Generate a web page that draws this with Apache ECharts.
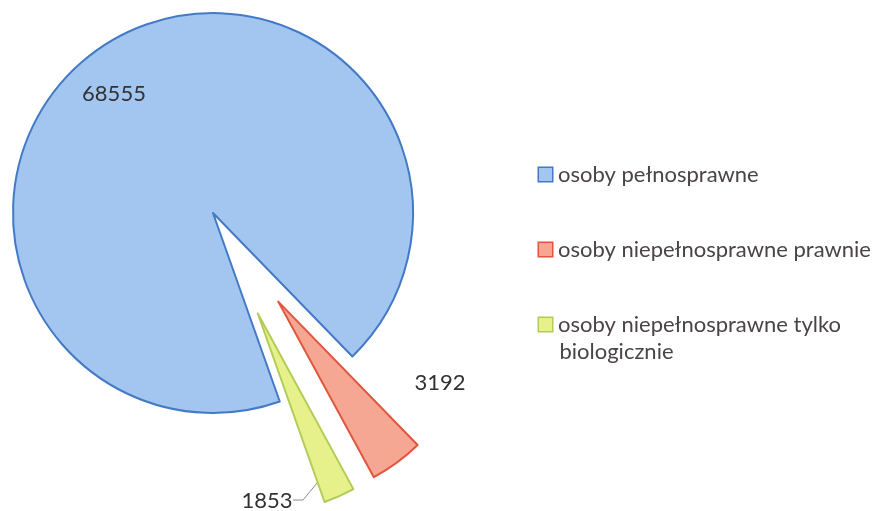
<!DOCTYPE html>
<html>
<head>
<meta charset="utf-8">
<script src="https://cdn.jsdelivr.net/npm/echarts@6/dist/echarts.min.js"></script>
<style>
    html, body { margin: 0; padding: 0; background: #fff; }
    #chart { width: 873px; height: 511px; }
</style>
</head>
<body>
<div id="chart"></div>
<script>
// dane z wykresu
var names = ['osoby pełnosprawne', 'osoby niepełnosprawne prawnie', 'osoby niepełnosprawne tylko biologicznie'];
var values = [68555, 3192, 1853];
var exploded = [0, 110, 110];

var fills = ['#a2c6ef', '#f6a794', '#e7f18c'];
var borders = ['#4479c6', '#e2553f', '#b3cc58'];

var pieCenter = [213, 213];
var startAngle = -70.5;

var total = 0;
values.forEach(function (v) { total += v; });

// przesunięcie wysuniętych wycinków wzdłuż ich środkowego kąta
function sliceCenter(k) {
    var before = 0;
    for (var j = 0; j < k; j++) before += values[j];
    var mid = (startAngle - (before + values[k] / 2) / total * 360) * Math.PI / 180;
    return [pieCenter[0] + Math.cos(mid) * exploded[k], pieCenter[1] - Math.sin(mid) * exploded[k]];
}

function labelSpot(params) {
    if (params.dataIndex === 0) {
        return { x: 114, y: 94, align: 'center', verticalAlign: 'middle' };
    }
    if (params.dataIndex === 1) {
        return { x: 440, y: 383, align: 'center', verticalAlign: 'middle' };
    }
    return {
        x: 267, y: 501, align: 'center', verticalAlign: 'middle',
        labelLinePoints: [[322, 477], [303, 500], [293, 500]]
    };
}

var series = [];
for (var k = 0; k < names.length; k++) {
    var data = [];
    for (var i = 0; i < names.length; i++) {
        var on = i === k;
        data.push({
            name: names[i],
            value: values[i],
            itemStyle: on
                ? { color: fills[i], borderColor: borders[i], borderWidth: 2 }
                : { color: 'rgba(0,0,0,0)', borderWidth: 0 },
            label: { show: on },
            labelLine: { show: on && i === 2 }
        });
    }
    series.push({
        type: 'pie',
        center: sliceCenter(k),
        radius: 200,
        startAngle: startAngle,
        clockwise: true,
        silent: true,
        avoidLabelOverlap: false,
        emphasis: { disabled: true },
        label: {
            position: 'outside',
            formatter: '{c}',
            fontFamily: 'Lato',
            fontSize: 22,
            color: '#333133'
        },
        labelLine: {
            lineStyle: { color: '#8c8c8c', width: 1 }
        },
        labelLayout: labelSpot,
        data: data
    });
}

var rich = {
    t: { fontFamily: 'Lato', fontSize: 22, color: '#4a4446', lineHeight: 27, padding: [0, 0, 0, 6] },
    sp: { width: 14.5, height: 14 }
};
for (var r = 0; r < names.length; r++) {
    rich['b' + r] = {
        width: 13, height: 13,
        backgroundColor: fills[r],
        borderColor: borders[r],
        borderWidth: 1.5
    };
}

var myChart = echarts.init(document.getElementById('chart'));
var option = {
    animation: false,
    legend: {
        orient: 'vertical',
        left: 529,
        top: 156,
        itemWidth: 0,
        itemHeight: 14,
        itemGap: 48,
        selectedMode: false,
        itemStyle: { opacity: 0, borderWidth: 0 },
        textStyle: {
            fontFamily: 'Lato',
            fontSize: 22,
            lineHeight: 27,
            rich: rich
        },
        formatter: function (name) {
            var idx = names.indexOf(name);
            if (idx === 2) {
                return '{b2|}{t|osoby niepełnosprawne tylko}\n{sp|}{t|biologicznie}';
            }
            return '{b' + idx + '|}{t|' + name + '}';
        },
        data: names
    },
    series: series
};
myChart.setOption(option);
</script>
</body>
</html>
